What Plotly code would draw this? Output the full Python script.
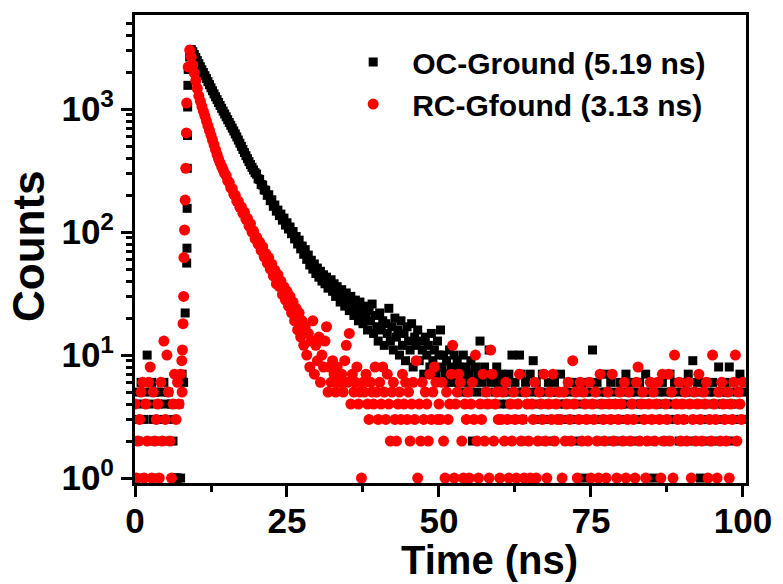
import plotly.graph_objects as go

# ---------------- data ----------------
CHANNEL_NS = 0.25          # time per channel, channels start at t = 0 ns

oc_name = "OC-Ground (5.19 ns)"
rc_name = "RC-Gfound (3.13 ns)"

# OC-Ground counts, one value per 0.25 ns channel from 0 to 100 ns
oc_counts = [
    3, 5, 2, 4, 6, 1, 3, 5, 10, 4, 2, 6, 3, 5, 1, 4, 2, 5, 3, 6,
    4, 2, 5, 3, 4, 2, 1, 1, 1, 4, 1, 7, 6, 22, 56, 2100, 2650, 3050, 2930, 2780,
    2620, 2480, 2340, 2210, 2090, 1980, 1870, 1770, 1670, 1580, 1490, 1410, 1330, 1260, 1195, 1130, 1070, 1015, 962, 912,
    866, 820, 778, 738, 700, 664, 628, 594, 560, 528, 498, 470, 443, 418, 395, 374, 354, 336, 320, 304,
    296, 271, 268, 244, 241, 220, 219, 199, 201, 180, 183, 162, 166, 148, 151, 136, 140, 125, 130, 114,
    119, 106, 110, 97, 101, 88, 92, 80, 86, 73, 77, 66, 72, 60, 65, 54, 59, 50, 55, 46,
    51, 43, 48, 40, 45, 38, 43, 35, 36, 41, 33, 38, 30, 36, 31, 27, 34, 29, 25, 32,
    27, 23, 30, 26, 21, 28, 24, 19, 27, 22, 18, 25, 20, 16, 23, 19, 26, 15, 21, 17,
    13, 22, 16, 19, 12, 18, 15, 24, 13, 17, 11, 20, 14, 16, 10, 19, 12, 15, 9, 17,
    13, 11, 18, 8, 14, 12, 16, 9, 13, 11, 7, 14, 10, 12, 8, 15, 9, 11, 7, 13,
    10, 16, 8, 10, 7, 9, 6, 11, 8, 7, 10, 6, 9, 8, 5, 7, 10, 6, 8, 5,
    7, 9, 2, 6, 8, 5, 7, 13, 6, 4, 8, 5, 7, 11, 6, 4, 7, 5, 8, 6,
    4, 7, 5, 3, 6, 4, 7, 5, 10, 3, 6, 4, 5, 10, 7, 3, 5, 6, 2, 4,
    7, 5, 9, 3, 6, 4, 5, 2, 7, 4, 5, 3, 6, 4, 5, 2, 6, 3, 5, 4,
    7, 3, 5, 4, 2, 6, 3, 5, 4, 6, 3, 5, 2, 4, 6, 1, 5, 3, 4, 6,
    5, 11, 3, 4, 6, 2, 5, 3, 4, 7, 5, 3, 4, 6, 2, 5, 4, 3, 2, 6,
    4, 5, 3, 7, 4, 2, 5, 6, 3, 4, 5, 2, 6, 4, 3, 5, 7, 4, 2, 5,
    3, 1, 6, 4, 5, 3, 4, 6, 2, 5, 4, 3, 7, 5, 4, 6, 3, 5, 2, 4,
    6, 3, 5, 4, 7, 2, 5, 9, 3, 4, 6, 5, 1, 4, 3, 6, 2, 5, 4, 3,
    6, 5, 4, 2, 8, 3, 5, 4, 6, 3, 5, 8, 4, 2, 6, 3, 5, 4, 7, 3,
    5,
]

# RC-Gfound counts, same channels
rc_counts = [
    4, 1, 2, 3, 5, 6, 1, 4, 2, 6, 8, 1, 5, 2, 3, 4, 1, 6, 2, 13,
    3, 10, 5, 2, 1, 4, 7, 3, 6, 4, 7, 5, 30, 182, 1120, 2200, 3020, 2650, 2280, 1960,
    1700, 1470, 1280, 1160, 1050, 960, 880, 800, 730, 670, 612, 560, 512, 468, 428, 392, 365, 342, 320, 300,
    288, 261, 254, 229, 226, 203, 199, 178, 178, 159, 160, 142, 145, 127, 129, 112, 117, 100, 102, 88,
    91, 80, 83, 71, 76, 63, 67, 56, 62, 50, 55, 44, 49, 38, 45, 36, 40, 31, 36, 28,
    33, 25, 30, 22, 27, 19, 24, 16, 22, 14, 19, 12, 17, 10, 15, 8, 13, 19, 7, 12,
    9, 14, 6, 10, 8, 13, 17, 5, 8, 6, 9, 7, 5, 8, 6, 6, 7, 5, 9, 12,
    6, 15, 4, 7, 5, 6, 8, 4, 5, 1, 6, 5, 7, 4, 3, 6, 5, 4, 8, 5,
    3, 6, 4, 8, 5, 3, 7, 4, 2, 5, 6, 3, 2, 4, 5, 3, 7, 4, 6, 3,
    5, 2, 4, 6, 3, 9, 1, 4, 2, 6, 3, 5, 4, 2, 7, 3, 5, 8, 6, 3,
    4, 3, 6, 2, 1, 5, 3, 4, 7, 12, 1, 4, 5, 7, 6, 2, 1, 4, 3, 5,
    1, 4, 6, 3, 10, 2, 1, 4, 3, 7, 2, 5, 4, 1, 11, 7, 2, 4, 5, 3,
    1, 3, 5, 2, 6, 3, 1, 4, 2, 5, 3, 1, 4, 7, 2, 3, 1, 5, 4, 2,
    1, 4, 3, 6, 1, 2, 5, 4, 3, 7, 2, 1, 4, 5, 3, 7, 2, 4, 3, 5,
    3, 1, 5, 2, 4, 6, 3, 2, 9, 4, 5, 1, 3, 6, 2, 5, 4, 3, 2, 6,
    1, 4, 3, 5, 2, 1, 7, 4, 3, 2, 1, 5, 4, 3, 7, 2, 4, 1, 3, 5,
    4, 2, 6, 1, 3, 5, 2, 4, 3, 1, 6, 8, 2, 4, 5, 3, 1, 2, 4, 6,
    3, 5, 2, 4, 6, 3, 1, 7, 2, 4, 3, 7, 2, 5, 1, 10, 4, 3, 6, 2,
    4, 3, 5, 2, 6, 4, 1, 3, 5, 2, 4, 7, 3, 2, 5, 4, 6, 1, 3, 2,
    10, 4, 3, 1, 5, 2, 6, 4, 3, 2, 5, 1, 4, 3, 6, 10, 2, 5, 4, 3,
    6,
]

# points on the rising edge that fall between channels
oc_rise_t = [8.55, 8.58, 8.60, 8.63, 8.66, 8.70]
oc_rise_counts = [74, 156, 330, 610, 1040, 1560]
rc_rise_t = [7.70, 7.80, 7.90, 8.05, 8.15, 8.35, 8.45]
rc_rise_counts = [9, 11, 18, 62, 104, 330, 640]

x_tickvals = [0, 25, 50, 75, 100]
y_tickvals = [1, 10, 100, 1000]
y_ticktext = ["10<sup>0</sup>", "10<sup>1</sup>", "10<sup>2</sup>", "10<sup>3</sup>"]
y_minor_vals = [m * d for d in (1, 10, 100, 1000) for m in range(2, 10) if m * d <= 5500]

# ---------------- figure ----------------
FONT = "Liberation Sans, Arial, sans-serif"
BLACK = "#000000"
RED = "#ff0000"

fig = go.Figure()
fig.add_trace(go.Scatter(
    x0=0, dx=CHANNEL_NS, y=oc_counts, mode="markers", name=oc_name,
    legendgroup="oc", marker=dict(symbol="square", size=9, color=BLACK)))
fig.add_trace(go.Scatter(
    x=oc_rise_t, y=oc_rise_counts, mode="markers", name=oc_name,
    legendgroup="oc", showlegend=False,
    marker=dict(symbol="square", size=9, color=BLACK)))
fig.add_trace(go.Scatter(
    x0=0, dx=CHANNEL_NS, y=rc_counts, mode="markers", name=rc_name,
    legendgroup="rc", marker=dict(symbol="circle", size=11, color=RED)))
fig.add_trace(go.Scatter(
    x=rc_rise_t, y=rc_rise_counts, mode="markers", name=rc_name,
    legendgroup="rc", showlegend=False,
    marker=dict(symbol="circle", size=11, color=RED)))

axis_common = dict(
    showline=True, linewidth=3, linecolor=BLACK, mirror=True,
    ticks="outside", ticklen=11, tickwidth=3, tickcolor=BLACK,
    showgrid=False, zeroline=False,
    tickfont=dict(family=FONT, size=35, color=BLACK, weight="bold"),
)

fig.update_xaxes(
    range=[0, 100.5], tickmode="array", tickvals=x_tickvals,
    ticklabelstandoff=-6,
    minor=dict(tickmode="linear", tick0=12.5, dtick=25, ticks="outside",
               ticklen=6, tickwidth=3, tickcolor=BLACK),
    **axis_common)
fig.update_yaxes(
    type="log", range=[-0.04, 3.765], tickmode="array",
    tickvals=y_tickvals, ticktext=y_ticktext,
    minor=dict(tickmode="array", tickvals=y_minor_vals, ticks="outside",
               ticklen=6, tickwidth=3, tickcolor=BLACK),
    **axis_common)

fig.update_layout(
    width=783, height=584,
    margin=dict(l=135, r=37, t=15, b=101, pad=0),
    plot_bgcolor="white", paper_bgcolor="white",
    showlegend=True,
    legend=dict(x=0.326, y=0.955, xanchor="left", yanchor="top",
                bgcolor="rgba(0,0,0,0)", itemwidth=68, tracegroupgap=0,
                font=dict(family=FONT, size=30, color=BLACK, weight="bold")),
    annotations=[
        dict(text="Time (ns)", xref="paper", yref="paper",
             x=(489 - 135) / 611, y=-(536 - 483) / 468,
             xanchor="center", yanchor="top", showarrow=False,
             font=dict(family=FONT, size=40, color=BLACK, weight="bold")),
        dict(text="Counts", xref="paper", yref="paper",
             x=-(135 - 28) / 611, y=(483 - 246) / 468, textangle=-90,
             xanchor="center", yanchor="middle", showarrow=False,
             font=dict(family=FONT, size=44, color=BLACK, weight="bold")),
    ],
)

fig.write_html("out.html")
